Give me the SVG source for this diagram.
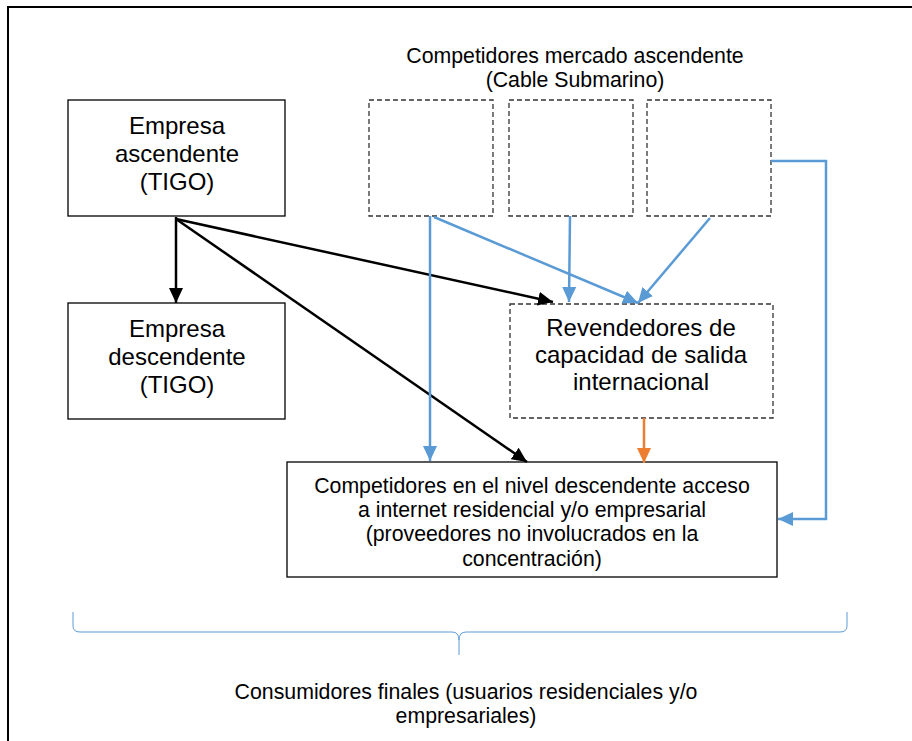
<svg xmlns="http://www.w3.org/2000/svg" width="912" height="741" viewBox="0 0 912 741">
<style>
text{font-family:"Liberation Sans",Arial,sans-serif;fill:#000;text-anchor:middle}
.box{fill:#fff;stroke:#000;stroke-width:1.3}
.dash{fill:#fff;stroke:#333;stroke-width:1.3;stroke-dasharray:5 3}
.blk{fill:none;stroke:#000;stroke-width:2.5}
.blu{fill:none;stroke:#5B9BD5;stroke-width:2.5}
.org{fill:none;stroke:#ED7D31;stroke-width:2.5}
</style>
<defs>
<marker id="ab" markerUnits="userSpaceOnUse" markerWidth="16" markerHeight="14" refX="15" refY="7" orient="auto"><path d="M0,0 L15,7 L0,14 z" fill="#000"/></marker>
<marker id="au" markerUnits="userSpaceOnUse" markerWidth="16" markerHeight="14" refX="15" refY="7" orient="auto"><path d="M0,0 L15,7 L0,14 z" fill="#5B9BD5"/></marker>
<marker id="ao" markerUnits="userSpaceOnUse" markerWidth="16" markerHeight="14" refX="15" refY="7" orient="auto"><path d="M0,0 L15,7 L0,14 z" fill="#ED7D31"/></marker>
</defs>
<rect x="0" y="0" width="912" height="741" fill="#fff"/>
<rect x="8" y="7" width="1000" height="1000" fill="none" stroke="#000" stroke-width="2"/>
<g id="title">
<text x="575" y="63" font-size="21.3">Competidores mercado ascendente</text>
<text x="575" y="87" font-size="21.3">(Cable Submarino)</text>
</g>
<g id="empresa-ascendente">
<rect class="box" x="68" y="100" width="217" height="116"/>
<text x="177" y="134" font-size="24">Empresa</text>
<text x="177" y="162" font-size="24">ascendente</text>
<text x="177" y="190" font-size="24">(TIGO)</text>
</g>
<g id="empresa-descendente">
<rect class="box" x="68" y="303" width="217" height="116"/>
<text x="177" y="337" font-size="24">Empresa</text>
<text x="177" y="365" font-size="24">descendente</text>
<text x="177" y="393" font-size="24">(TIGO)</text>
</g>
<g id="competidor1"><rect class="dash" x="369" y="100" width="124" height="116"/></g>
<g id="competidor2"><rect class="dash" x="509" y="100" width="124" height="116"/></g>
<g id="competidor3"><rect class="dash" x="647" y="100" width="124" height="116"/></g>
<g id="revendedores">
<rect class="dash" x="510" y="304" width="263" height="114"/>
<text x="641" y="336" font-size="24">Revendedores de</text>
<text x="641" y="363" font-size="24">capacidad de salida</text>
<text x="641" y="390" font-size="24">internacional</text>
</g>
<g id="competidores-descendente">
<rect class="box" x="287" y="462" width="490" height="115"/>
<text x="532" y="493" font-size="21.3">Competidores en el nivel descendente acceso</text>
<text x="532" y="517" font-size="21.3">a internet residencial y/o empresarial</text>
<text x="532" y="541" font-size="21.3">(proveedores no involucrados en la</text>
<text x="532" y="566" font-size="21.3">concentración)</text>
</g>
<g id="connectors">
<path class="blk" d="M176,217 L176,303" marker-end="url(#ab)"/>
<path class="blk" d="M176,219 L553,302" marker-end="url(#ab)"/>
<path class="blk" d="M176,219 L527,462" marker-end="url(#ab)"/>
<path class="blu" d="M430,216 L430,461" marker-end="url(#au)"/>
<path class="blu" d="M434,217 L638,303" marker-end="url(#au)"/>
<path class="blu" d="M570,216 L569,302" marker-end="url(#au)"/>
<path class="blu" d="M710,218 L638,303" marker-end="url(#au)"/>
<path class="blu" d="M771,161 L826,161 L826,519 L778,519" marker-end="url(#au)"/>
<path class="org" d="M644,418 L644,463" marker-end="url(#ao)"/>
</g>
<g id="consumidores">
<path d="M73,612 L73,626 Q73,632 80,632 L452,632 Q459,632 459,640 L459,655 M459,640 Q459,632 466,632 L840,632 Q847,632 847,626 L847,612" fill="none" stroke="#5B9BD5" stroke-width="1"/>
<text x="466" y="699" font-size="21.3">Consumidores finales (usuarios residenciales y/o</text>
<text x="466" y="723" font-size="21.3">empresariales)</text>
</g>
</svg>
